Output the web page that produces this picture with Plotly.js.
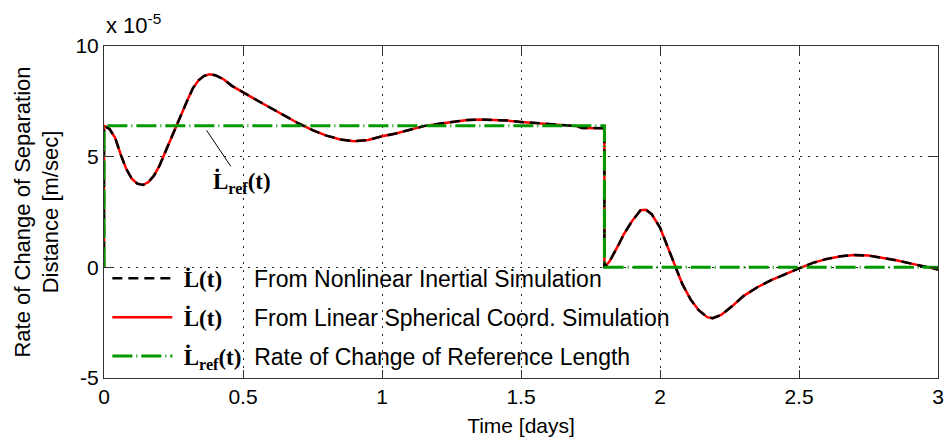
<!DOCTYPE html>
<html>
<head>
<meta charset="utf-8">
<script src="https://cdn.plot.ly/plotly-3.0.1.min.js"></script>
<style>html,body{margin:0;padding:0;background:#fff}#chart{width:951px;height:447px}</style>
</head>
<body>
<div id="chart"></div>
<script>
// Values in units of 1e-5 m/sec
const timeDays = [0, 0, 0.02, 0.04, 0.06, 0.08, 0.10, 0.12, 0.14, 0.16, 0.18, 0.20, 0.22, 0.24, 0.26, 0.28, 0.30, 0.32, 0.34, 0.36, 0.38, 0.40, 0.43, 0.46, 0.50, 0.55, 0.60, 0.65, 0.70, 0.75, 0.80, 0.85, 0.90, 0.95, 1.00, 1.05, 1.10, 1.15, 1.20, 1.25, 1.30, 1.35, 1.40, 1.45, 1.50, 1.55, 1.60, 1.65, 1.70, 1.72, 1.80,
  1.80, 1.82, 1.85, 1.87, 1.90, 1.93, 1.95, 1.97, 2.00, 2.03, 2.055, 2.08, 2.11, 2.14, 2.17, 2.19, 2.22, 2.26, 2.30, 2.35, 2.40, 2.45, 2.50, 2.55, 2.60, 2.65, 2.70, 2.75, 2.80, 2.85, 2.90, 2.95, 3.00];
const lDotNonlinear = [0, 6.40, 6.25, 5.85, 5.10, 4.45, 4.00, 3.78, 3.72, 3.85, 4.15, 4.60, 5.20, 5.80, 6.35, 6.95, 7.55, 8.10, 8.45, 8.65, 8.72, 8.68, 8.50, 8.20, 7.90, 7.55, 7.20, 6.85, 6.50, 6.20, 5.95, 5.78, 5.70, 5.75, 5.92, 6.05, 6.20, 6.38, 6.48, 6.58, 6.65, 6.68, 6.67, 6.63, 6.57, 6.52, 6.47, 6.44, 6.38, 6.30, 6.28,
  0, 0.30, 1.00, 1.50, 2.10, 2.58, 2.60, 2.40, 1.80, 0.85, 0, -0.75, -1.45, -1.95, -2.25, -2.30, -2.15, -1.75, -1.30, -0.90, -0.58, -0.30, -0.05, 0.20, 0.38, 0.50, 0.56, 0.53, 0.44, 0.32, 0.18, 0.05, -0.10];
const lDotLinear = [0, 6.40, 6.25, 5.85, 5.10, 4.45, 4.00, 3.78, 3.72, 3.85, 4.15, 4.60, 5.20, 5.80, 6.35, 6.95, 7.55, 8.10, 8.45, 8.65, 8.72, 8.68, 8.50, 8.20, 7.90, 7.55, 7.20, 6.85, 6.50, 6.20, 5.95, 5.78, 5.70, 5.75, 5.92, 6.05, 6.20, 6.38, 6.48, 6.58, 6.65, 6.68, 6.67, 6.63, 6.57, 6.52, 6.47, 6.44, 6.38, 6.30, 6.28,
  0, 0.30, 1.00, 1.50, 2.10, 2.58, 2.60, 2.40, 1.80, 0.85, 0, -0.75, -1.45, -1.95, -2.25, -2.30, -2.15, -1.75, -1.30, -0.90, -0.58, -0.30, -0.05, 0.20, 0.38, 0.50, 0.56, 0.53, 0.44, 0.32, 0.18, 0.05, -0.10];
const refTime = [0, 0, 1.8, 1.8, 3];
const lDotRef = [0, 6.4, 6.4, 0, 0];

const xTickVals = [0, 0.5, 1, 1.5, 2, 2.5, 3];
const xTickText = ['0', '0.5', '1', '1.5', '2', '2.5', '3'];
const yTickVals = [-5, 0, 5, 10];
const yTickText = ['-5', '0', '5', '10'];

const refLabelPoint = {t: 0.369, v: 6.19};

const NB = '\u00a0';
const lab = (s) => '<span style="font-family:Liberation Serif;font-weight:bold;font-size:23px">' + s + '</span>';
const Ldot = 'L\u0307';

const traces = [
  {x: timeDays, y: lDotLinear, mode: 'lines', name: NB + lab(Ldot + '(t)') + NB.repeat(5) + 'From Linear Spherical Coord. Simulation',
   line: {color: '#ff0000', width: 2.5}, legendrank: 2, legendgroup: 'b'},
  {x: timeDays, y: lDotNonlinear, mode: 'lines', name: NB + lab(Ldot + '(t)') + NB.repeat(5) + 'From Nonlinear Inertial Simulation',
   line: {color: '#000000', width: 2.5, dash: '10px,6px'}, legendrank: 1, legendgroup: 'a'},
  {x: refTime, y: lDotRef, mode: 'lines', name: NB + lab(Ldot + '<sub>ref</sub>(t)') + NB.repeat(2) + 'Rate of Change of Reference Length',
   line: {color: '#009900', width: 3, dash: '20px,4px,1px,4px'}, legendrank: 3, legendgroup: 'c'}
];

const axisCommon = {
  showline: true, mirror: 'ticks', linecolor: '#333', linewidth: 1,
  ticks: 'inside', ticklen: 8, tickcolor: '#333', tickwidth: 1,
  showgrid: true, gridcolor: '#222', gridwidth: 1, griddash: '2px,6px',
  zeroline: false, tickfont: {family: 'Liberation Sans, Arial, sans-serif', size: 21, color: '#000'},
  tickmode: 'array'
};

const layout = {
  width: 951, height: 447,
  margin: {l: 104, r: 13, t: 46, b: 69},
  paper_bgcolor: '#fff', plot_bgcolor: '#fff',
  font: {family: 'Liberation Sans, Arial, sans-serif', color: '#000'},
  xaxis: Object.assign({}, axisCommon, {range: [0, 3], tickvals: xTickVals, ticktext: xTickText,
    title: {text: 'Time [days]', font: {size: 21}, standoff: 11}}),
  yaxis: Object.assign({}, axisCommon, {range: [-5, 10], tickvals: yTickVals, ticktext: yTickText,
    title: {text: 'Rate of Change of Separation<br>Distance [m/sec]', font: {size: 22}, standoff: 10}}),
  showlegend: true,
  legend: {x: 0.004, y: 0.365, xanchor: 'left', yanchor: 'top', bgcolor: 'rgba(0,0,0,0)',
    font: {size: 23, family: 'Liberation Sans, Arial, sans-serif'}, itemwidth: 60, tracegroupgap: 6,
    traceorder: 'grouped'},
  annotations: [
    {xref: 'paper', yref: 'paper', x: 0, y: 1, xanchor: 'left', yanchor: 'bottom', yshift: 6,
     text: 'x 10<sup>-5</sup>', showarrow: false, font: {size: 22}},
    {x: refLabelPoint.t, y: refLabelPoint.v, xref: 'x', yref: 'y', text: lab(Ldot + '<sub>ref</sub>(t)'),
     showarrow: true, arrowhead: 0, arrowwidth: 1, arrowcolor: '#000', ax: 35, ay: 52, standoff: 0}
  ]
};

Plotly.newPlot('chart', traces, layout, {staticPlot: true, displayModeBar: false});
</script>
</body>
</html>
